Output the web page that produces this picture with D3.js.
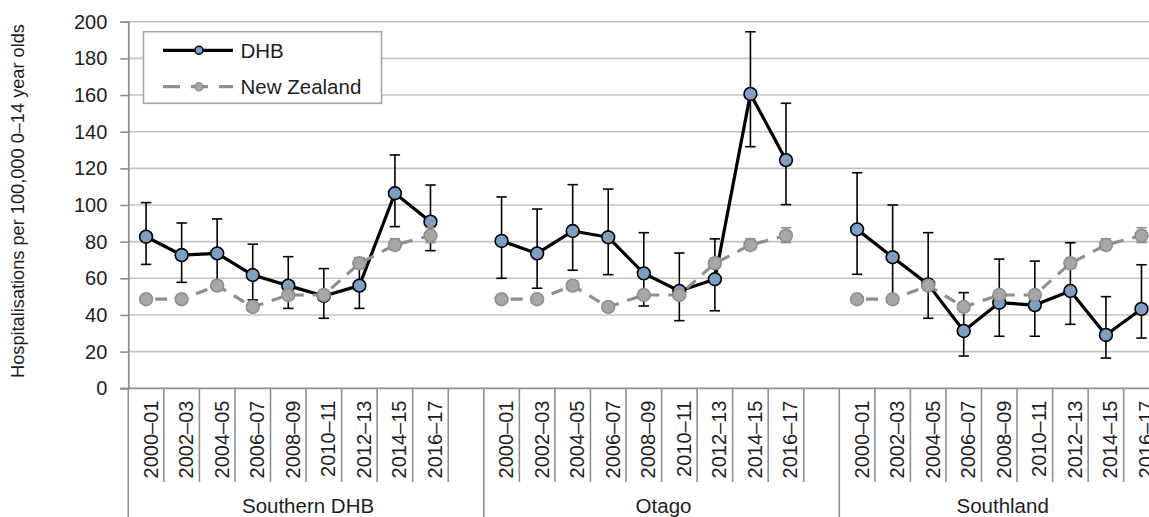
<!DOCTYPE html>
<html>
<head>
<meta charset="utf-8">
<script src="https://cdn.jsdelivr.net/npm/d3@7"></script>
<style>
  html, body { margin: 0; padding: 0; background: #ffffff; }
  svg { display: block; }
  text { font-family: "Liberation Sans", Arial, sans-serif; fill: #1e1e1e; }
</style>
</head>
<body>
<svg id="chart" width="1149" height="517"></svg>
<script>
// ---------------- DATA ----------------
const groups = ["Southern DHB", "Otago", "Southland"];
const periods = ["2000–01", "2002–03", "2004–05", "2006–07", "2008–09", "2010–11", "2012–13", "2014–15", "2016–17"];
const yTicks = [0, 20, 40, 60, 80, 100, 120, 140, 160, 180, 200];
const seriesNames = ["DHB", "New Zealand"];
const yTitle = "Hospitalisations per 100,000 0–14 year olds";

const southernValues = [82.7, 72.7, 73.6, 61.8, 56.0, 50.4, 56.0, 106.4, 90.9];
const southernLower  = [67.6, 57.8, 57.0, 48.2, 43.6, 38.2, 43.6, 88.2, 75.1];
const southernUpper  = [101.3, 90.2, 92.4, 78.6, 71.8, 65.3, 71.0, 127.3, 110.9];

const otagoValues = [80.4, 73.6, 85.8, 82.4, 62.7, 53.1, 59.5, 160.6, 124.5];
const otagoLower  = [60.0, 54.6, 64.4, 62.0, 44.9, 36.9, 42.3, 131.8, 100.2];
const otagoUpper  = [104.4, 97.8, 111.1, 108.7, 84.9, 73.8, 81.5, 194.5, 155.5];

const southlandValues = [86.7, 71.5, 56.7, 31.3, 46.7, 45.4, 53.1, 29.1, 43.3];
const southlandLower  = [62.2, 48.0, 38.2, 17.6, 28.4, 28.4, 34.9, 16.5, 27.4];
const southlandUpper  = [117.6, 100.0, 84.9, 52.2, 70.5, 69.4, 79.4, 50.0, 67.4];

const nzValues = [48.6, 48.6, 56.0, 44.4, 50.9, 50.9, 68.2, 78.2, 83.3];
const nzLower  = [46.4, 46.4, 53.6, 42.3, 48.6, 48.6, 65.6, 75.5, 79.5];
const nzUpper  = [51.0, 51.0, 58.6, 46.6, 53.4, 53.4, 71.0, 81.6, 87.6];

// ---------------- BUILD ----------------
const dhbByGroup = [
  {values: southernValues, lower: southernLower, upper: southernUpper},
  {values: otagoValues, lower: otagoLower, upper: otagoUpper},
  {values: southlandValues, lower: southlandLower, upper: southlandUpper}
];

// each group has the 9 periods plus one empty slot
const slotsPerGroup = periods.length + 1;
const slotKeys = [];
groups.forEach((g, gi) => {
  for (let i = 0; i < slotsPerGroup; i++) slotKeys.push(gi + "|" + i);
});

const W = 1149, H = 517;
const plotLeft = 128.3, plotTop = 21.7, plotBottom = 388.3;
const slotWidth = 35.55;
const plotRight = plotLeft + slotWidth * slotKeys.length;

const svg = d3.select("#chart");

const x = d3.scaleBand().domain(slotKeys).range([plotLeft, plotRight]).padding(0);
const y = d3.scaleLinear().domain([0, 200]).range([plotBottom, plotTop]);

const gridColor = "#c3c3c3";
const axisColor = "#8f8f8f";

// gridlines
svg.append("g").selectAll("line").data(yTicks.filter(d => d > 0)).join("line")
  .attr("x1", plotLeft).attr("x2", W)
  .attr("y1", d => y(d)).attr("y2", d => y(d))
  .attr("stroke", gridColor).attr("stroke-width", 1.6);

// y axis
const yAxis = d3.axisLeft(y).tickValues(yTicks).tickSize(8).tickPadding(13).tickFormat(d3.format("d"));
const yg = svg.append("g").attr("transform", `translate(${plotLeft},0)`).call(yAxis);
yg.select(".domain").attr("stroke", axisColor).attr("stroke-width", 1.8);
yg.selectAll(".tick line").attr("stroke", axisColor).attr("stroke-width", 1.6);
yg.selectAll(".tick text").attr("font-size", 20).attr("fill", "#1e1e1e")
  .style("font-family", "'Liberation Sans', Arial, sans-serif");

// x axis baseline
svg.append("line").attr("x1", plotLeft - 8).attr("x2", W)
  .attr("y1", plotBottom).attr("y2", plotBottom)
  .attr("stroke", axisColor).attr("stroke-width", 1.8);

// category separators and group separators
const sepG = svg.append("g");
slotKeys.forEach((k) => {
  const i = +k.split("|")[1];
  const xl = x(k);
  if (i === 0) {
    sepG.append("line").attr("x1", xl).attr("x2", xl).attr("y1", plotBottom).attr("y2", H)
      .attr("stroke", axisColor).attr("stroke-width", 1.6);
  } else if (i <= periods.length) {
    sepG.append("line").attr("x1", xl).attr("x2", xl).attr("y1", plotBottom).attr("y2", 482)
      .attr("stroke", axisColor).attr("stroke-width", 1.6);
  }
});
sepG.append("line").attr("x1", plotRight).attr("x2", plotRight).attr("y1", plotBottom).attr("y2", H)
  .attr("stroke", axisColor).attr("stroke-width", 1.6);

// category labels
const catG = svg.append("g");
groups.forEach((g, gi) => {
  periods.forEach((p, i) => {
    const cx = x(gi + "|" + i) + x.bandwidth() / 2;
    catG.append("text")
      .attr("transform", `translate(${cx + 11.5},${400.5}) rotate(-90)`)
      .attr("text-anchor", "end")
      .attr("font-size", 20)
      .text(p);
  });
});

// group labels (centred on the visible part of each group)
groups.forEach((g, gi) => {
  const x0 = x(gi + "|0");
  const x1 = Math.min(x0 + slotWidth * slotsPerGroup, W + 13);
  svg.append("text")
    .attr("x", (x0 + x1) / 2 + 2)
    .attr("y", 513)
    .attr("text-anchor", "middle")
    .attr("font-size", 20.5)
    .text(g);
});

// y title
svg.append("text")
  .attr("transform", `translate(24,201) rotate(-90)`)
  .attr("text-anchor", "middle")
  .attr("font-size", 18.2)
  .text(yTitle);

const cxOf = (gi, i) => x(gi + "|" + i) + x.bandwidth() / 2;
const capHalf = 5.2;

function drawErrorBars(parent, gi, lower, upper, color, width) {
  lower.forEach((lo, i) => {
    const cx = cxOf(gi, i);
    const hi = upper[i];
    parent.append("line").attr("x1", cx).attr("x2", cx).attr("y1", y(lo)).attr("y2", y(hi))
      .attr("stroke", color).attr("stroke-width", width);
    [lo, hi].forEach(v => {
      parent.append("line").attr("x1", cx - capHalf).attr("x2", cx + capHalf)
        .attr("y1", y(v)).attr("y2", y(v))
        .attr("stroke", color).attr("stroke-width", width);
    });
  });
}

const dhbColor = "#000000";
const dhbFill = "#7c9fc3";
const nzColor = "#8e8e8e";
const nzFill = "#a6a6a6";

const line = d3.line().x(d => d[0]).y(d => y(d[1]));

// DHB series
groups.forEach((g, gi) => {
  const s = dhbByGroup[gi];
  const gG = svg.append("g");
  drawErrorBars(gG, gi, s.lower, s.upper, "#000", 1.6);
  const pts = s.values.map((v, i) => [cxOf(gi, i), v]);
  gG.append("path").attr("d", line(pts)).attr("fill", "none")
    .attr("stroke", dhbColor).attr("stroke-width", 3.2).attr("stroke-linejoin", "round");
  gG.selectAll("circle").data(pts).join("circle")
    .attr("cx", d => d[0]).attr("cy", d => y(d[1])).attr("r", 6.4)
    .attr("fill", dhbFill).attr("stroke", "#000").attr("stroke-width", 1.6);
});

// New Zealand series (drawn in every group)
groups.forEach((g, gi) => {
  const gG = svg.append("g");
  drawErrorBars(gG, gi, nzLower, nzUpper, nzColor, 1.6);
  const pts = nzValues.map((v, i) => [cxOf(gi, i), v]);
  gG.append("path").attr("d", line(pts)).attr("fill", "none")
    .attr("stroke", nzColor).attr("stroke-width", 3.2)
    .attr("stroke-dasharray", "12,9").attr("stroke-dashoffset", -9);
  gG.selectAll("circle").data(pts).join("circle")
    .attr("cx", d => d[0]).attr("cy", d => y(d[1])).attr("r", 6.4)
    .attr("fill", nzFill).attr("stroke", nzColor).attr("stroke-width", 1.6);
});

// legend
const lg = svg.append("g");
lg.append("rect").attr("x", 143.5).attr("y", 31.7).attr("width", 238).attr("height", 71.6)
  .attr("fill", "#fff").attr("stroke", "#a6a6a6").attr("stroke-width", 1.6);
const legendRows = [
  {name: seriesNames[0], y: 50.3, stroke: dhbColor, fill: dhbFill, mstroke: "#000", dash: null},
  {name: seriesNames[1], y: 86.7, stroke: nzColor, fill: nzFill, mstroke: nzColor, dash: "17,11"}
];
legendRows.forEach(r => {
  const ln = lg.append("line").attr("x1", 163).attr("x2", 233).attr("y1", r.y).attr("y2", r.y)
    .attr("stroke", r.stroke).attr("stroke-width", 3.2);
  if (r.dash) ln.attr("stroke-dasharray", r.dash);
  lg.append("circle").attr("cx", 199).attr("cy", r.y).attr("r", 4)
    .attr("fill", r.fill).attr("stroke", r.mstroke).attr("stroke-width", 1.4);
  lg.append("text").attr("x", 240.5).attr("y", r.y + 7.3).attr("font-size", 20.5).text(r.name);
});
</script>
</body>
</html>
